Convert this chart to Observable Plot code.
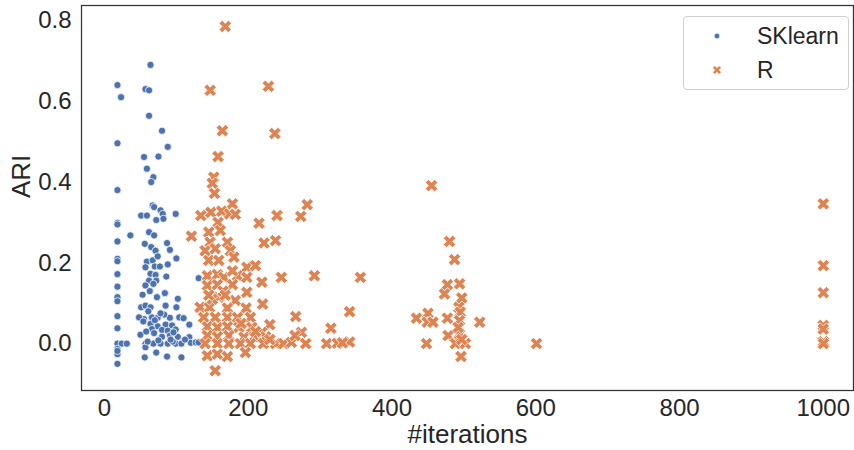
<!DOCTYPE html>
<html>
<head>
<meta charset="utf-8">
<script src="https://cdn.jsdelivr.net/npm/d3@7"></script>
<script src="https://cdn.jsdelivr.net/npm/@observablehq/plot@0.6"></script>
<style>
  body { margin: 0; background: #fff; }
  #wrap { position: relative; width: 854px; height: 450px; font-family: "Liberation Sans", Arial, sans-serif; }
  #legend { position: absolute; left: 683px; top: 16px; width: 164px; height: 72px; border: 1px solid #d0d0d0; border-radius: 4px; background: rgba(255,255,255,0.85); font-size: 23px; color: #262626; }
  #legend .row { position: absolute; left: 0; height: 30px; display: flex; align-items: center; }
  #legend svg { position: absolute; left: 23px; }
  #legend span { position: absolute; left: 73px; white-space: nowrap; }
</style>
</head>
<body>
<div id="wrap">
  <div id="chart"></div>
  <div id="legend"></div>
</div>
<script>
// ---- data ----
const seriesNames = ["SKlearn", "R"];
const seriesColors = ["#4c72b0", "#dd8452"];

const skIter = [64,18,57,62,23,62,80,18,88,55,75,59,68,65,18,
  67,69,78,81,51,59,72,82,99,18,18,62,69,36,18,
  56,87,65,71,91,18,18,59,67,74,88,100,57,70,77,
  64,71,62,72,86,131,57,68,18,53,73,102,18,18,
  51,57,64,85,100,18,55,66,74,91,104,110,
  64,74,85,94,118,18,66,80,88,99,
  50,69,80,91,102,118,
  18,24,31,57,68,78,88,99,107,120,127,131,
  18,18,57,72,56,87,107,18,
  60,75,95,83,61,48,112,18,18,
  54,70,78,96,63,84,58,92];
const skAri = [0.69,0.64,0.63,0.627,0.61,0.564,0.527,0.496,0.487,0.462,0.463,0.433,0.412,0.40,0.38,
  0.342,0.338,0.33,0.321,0.317,0.317,0.306,0.309,0.321,0.299,0.295,0.276,0.268,0.268,0.253,
  0.247,0.249,0.239,0.23,0.232,0.21,0.204,0.203,0.206,0.216,0.196,0.211,0.189,0.191,0.191,
  0.173,0.17,0.156,0.156,0.166,0.162,0.144,0.148,0.141,0.121,0.115,0.111,0.115,0.105,
  0.09,0.094,0.09,0.094,0.09,0.068,0.061,0.065,0.064,0.064,0.065,0.063,
  0.049,0.043,0.047,0.045,0.047,0.038,0.036,0.034,0.032,0.035,
  0.022,0.026,0.017,0.02,0.017,0.016,
  0,0,0,0,0,0,0,0,0,0.002,0.003,0.003,
  -0.013,-0.026,-0.009,-0.022,-0.034,-0.032,-0.034,-0.05,
  0.005,0.008,0.005,0.072,0.08,0.065,0.01,-0.018,0.172,
  0.055,0.058,0.075,0.028,0.13,0.125,0.03,0.01];

const rIter = [168,147,228,164,237,158,152,150,153,455,
  178,134,148,163,174,182,158,215,240,282,273,
  145,161,121,147,171,222,238,140,154,175,180,145,159,
  198,210,143,157,166,185,198,246,292,356,
  143,157,178,219,159,182,198,220,133,146,171,197,341,
  138,154,171,185,203,266,230,143,157,171,187,205,315,
  219,274,143,157,173,194,208,224,
  140,157,173,189,203,221,238,249,280,309,324,341,
  143,157,171,196,154,
  480,487,477,494,473,497,493,495,434,450,449,457,477,494,522,493,478,494,448,488,502,601,496,492,497,
  1000,1000,1000,1000,1000,1000,1000,
  150,165,190,210,230,260,265,178,168,145,331];
const rAri = [0.785,0.627,0.637,0.527,0.52,0.463,0.412,0.397,0.372,0.391,
  0.346,0.317,0.325,0.328,0.321,0.32,0.30,0.298,0.317,0.344,0.315,
  0.276,0.28,0.266,0.251,0.251,0.249,0.255,0.23,0.235,0.23,0.214,0.206,0.206,
  0.189,0.193,0.168,0.171,0.164,0.168,0.164,0.164,0.168,0.164,
  0.144,0.146,0.146,0.152,0.115,0.107,0.127,0.098,0.09,0.09,0.088,0.088,0.079,
  0.065,0.065,0.065,0.065,0.065,0.067,0.047,0.042,0.04,0.042,0.04,0.04,0.038,
  0.028,0.028,0.02,0.017,0.02,0.016,0.017,0.017,
  0,0,0,0,0,0,0,0,0,0,0.001,0.004,
  -0.03,-0.026,-0.032,-0.022,-0.067,
  0.253,0.208,0.146,0.148,0.123,0.113,0.09,0.078,0.063,0.075,0.053,0.053,0.063,0.057,0.053,0.022,0.02,0.024,0,0,0,0,-0.032,0.04,0.01,
  0.346,0.193,0.126,0.045,0.036,0.005,0,
  0.11,0.13,0.05,0.03,0.01,0.003,0.02,0.18,0.12,0.12,0.002];

const xTicks = [0, 200, 400, 600, 800, 1000];
const yTicks = [0.0, 0.2, 0.4, 0.6, 0.8];
const xLabel = "#iterations";
const yLabel = "ARI";

// ---- build ----
const sk = skIter.map((x, i) => ({iter: x, ari: skAri[i], method: seriesNames[0]}));
const rr = rIter.map((x, i) => ({iter: x, ari: rAri[i], method: seriesNames[1]}));

// filled "X" marker (like matplotlib's 'X')
const filledX = {
  draw(ctx, size) {
    const L = Math.sqrt(size / Math.PI), w = L / 3;
    const pts = [[w,L],[w,w],[L,w],[L,-w],[w,-w],[w,-L],[-w,-L],[-w,-w],[-L,-w],[-L,w],[-w,w],[-w,L]]
      .map(([x, y]) => [(x - y) / Math.SQRT2, (x + y) / Math.SQRT2]);
    ctx.moveTo(pts[0][0], pts[0][1]);
    for (let i = 1; i < pts.length; ++i) ctx.lineTo(pts[i][0], pts[i][1]);
    ctx.closePath();
  }
};

const font = '"Liberation Sans", Arial, sans-serif';
const chart = Plot.plot({
  width: 854,
  height: 450,
  marginLeft: 81,
  marginRight: 1,
  marginTop: 5,
  marginBottom: 60,
  style: {fontFamily: font, fontSize: "24px", color: "#262626", background: "white"},
  x: {domain: [-32, 1042], label: null},
  y: {domain: [-0.116, 0.837], label: null},
  marks: [
    Plot.axisX({ticks: xTicks, tickSize: 0, tickPadding: 8, fontSize: 24, tickFormat: d3.format("d"), label: null}),
    Plot.axisY({ticks: yTicks, tickSize: 0, tickPadding: 10, fontSize: 24, tickFormat: d3.format(".1f"), label: null}),
    Plot.dot(sk, {x: "iter", y: "ari", r: 3.6, fill: seriesColors[0], stroke: "white", strokeWidth: 0.75}),
    Plot.dot(rr, {x: "iter", y: "ari", r: 6.6, symbol: filledX, fill: seriesColors[1], stroke: "white", strokeWidth: 0.75}),
    Plot.frame({stroke: "#333", strokeWidth: 1.25}),
    Plot.text([xLabel], {frameAnchor: "bottom", dy: 52, text: d => d, fontSize: 26, fill: "#262626"}),
    Plot.text([yLabel], {frameAnchor: "left", dx: -60, rotate: -90, text: d => d, fontSize: 26, fill: "#262626"})
  ]
});
document.getElementById("chart").appendChild(chart);

// legend
const leg = document.getElementById("legend");
const xPath = (() => {
  const p = d3.path(); filledX.draw(p, Math.PI * 4.6 * 4.6); return p.toString();
})();
seriesNames.forEach((name, i) => {
  const row = document.createElement("div");
  row.className = "row";
  row.style.top = (i === 0 ? 4 : 38) + "px";
  row.style.width = "164px";
  const marker = i === 0
    ? `<svg width="20" height="20" viewBox="-10 -10 20 20"><circle r="2.7" fill="${seriesColors[0]}" stroke="white" stroke-width="0.5"/></svg>`
    : `<svg width="20" height="20" viewBox="-10 -10 20 20"><path d="${xPath}" fill="${seriesColors[1]}" stroke="white" stroke-width="0.5"/></svg>`;
  row.innerHTML = marker + `<span>${name}</span>`;
  leg.appendChild(row);
});
</script>
</body>
</html>
